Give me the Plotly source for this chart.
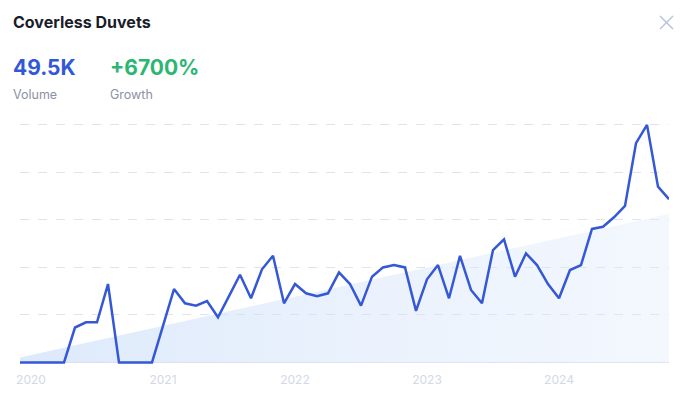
import plotly.graph_objects as go

months = [f"{y}-{m:02d}" for y, m in [(2019, 12)] + [(yy, mm) for yy in range(2020, 2025) for mm in range(1, 13)]][:60]
volume = [0, 0, 0, 0, 0, 14.7, 16.9, 16.9, 33.0, 0,
          0, 0, 0, 15.4, 30.9, 24.9, 23.9, 25.8, 19.0, 27.9,
          36.9, 27.0, 39.2, 44.9, 24.9, 33.0, 29.1, 27.9, 29.1, 37.9,
          33.0, 23.9, 36.1, 40.0, 41.0, 40.0, 21.7, 35.0, 41.0, 27.0,
          44.9, 30.5, 24.9, 47.3, 51.8, 36.1, 45.9, 41.0, 33.0, 27.0,
          38.9, 41.0, 56.2, 57.1, 61.1, 65.9, 92.3, 100.0, 74.0, 68.7]
trend_x = [months[0], months[-1]]
trend_y = [2.1, 62.5]
tick_months = ["2020-01", "2021-01", "2022-01", "2023-01", "2024-01"]
tick_labels = ["2020", "2021", "2022", "2023", "2024"]

W, H = 686, 397
L, R, T, B = 20, 17, 113, 31
pw, ph = W - L - R, H - T - B

def px(x):
    return (x - L) / pw

def py(y):
    return 1 - (y - T) / ph

fig = go.Figure()
fig.add_trace(go.Scatter(
    x=trend_x, y=trend_y, mode="lines", line=dict(width=0),
    fill="tozeroy",
    fillgradient=dict(type="horizontal",
                      colorscale=[[0, "rgba(196,218,248,0.58)"], [1, "rgba(226,236,252,0.4)"]]),
    hoverinfo="skip", showlegend=False))
fig.add_trace(go.Scatter(
    x=months, y=volume, mode="lines",
    line=dict(color="#3558d6", width=2.5), showlegend=False))

fig.update_layout(
    width=W, height=H, margin=dict(l=L, r=R, t=T, b=B),
    paper_bgcolor="white", plot_bgcolor="white",
    font=dict(family="Inter, sans-serif"),
    xaxis=dict(type="category", categoryorder="array", categoryarray=months,
               range=[0, 59], tickvals=tick_months, ticktext=tick_labels,
               showgrid=False, zeroline=False, showline=False, ticks="",
               ticklabelstandoff=5, automargin=False,
               tickfont=dict(size=12, color="#d3d8e8"), fixedrange=True),
    yaxis=dict(range=[-1.5, 105], dtick=20, tick0=0, showticklabels=False,
               showgrid=True, gridcolor="#e0e3eb", griddash="dash", gridwidth=1,
               zeroline=False, showline=False, fixedrange=True, automargin=False),
    shapes=[
        dict(type="line", xref="paper", yref="y", x0=0, x1=1, y0=0, y1=0,
             line=dict(color="#dde3f1", width=1), layer="below"),
        dict(type="line", xref="paper", yref="paper", x0=px(660), x1=px(673), y0=py(16), y1=py(29),
             line=dict(color="#b9c3de", width=1.5)),
        dict(type="line", xref="paper", yref="paper", x0=px(660), x1=px(673), y0=py(29), y1=py(16),
             line=dict(color="#b9c3de", width=1.5)),
    ],
)

def txt(text, x, y, size, color, bold=False):
    fig.add_annotation(text=f"<b>{text}</b>" if bold else text, x=px(x), y=py(y),
                       xref="paper", yref="paper", xanchor="left", yanchor="middle",
                       showarrow=False, font=dict(size=size, color=color, family="Inter, sans-serif"))

txt("Coverless Duvets", 11, 22, 16, "#1b1c2a", True)
txt("49.5K", 11, 68, 21, "#3058d8", True)
txt("+6700%", 108, 68, 21, "#2cb673", True)
txt("Volume", 11, 94, 12.5, "#8d91a4")
txt("Growth", 108, 94, 12.5, "#8d91a4")

fig.write_html("out.html")
